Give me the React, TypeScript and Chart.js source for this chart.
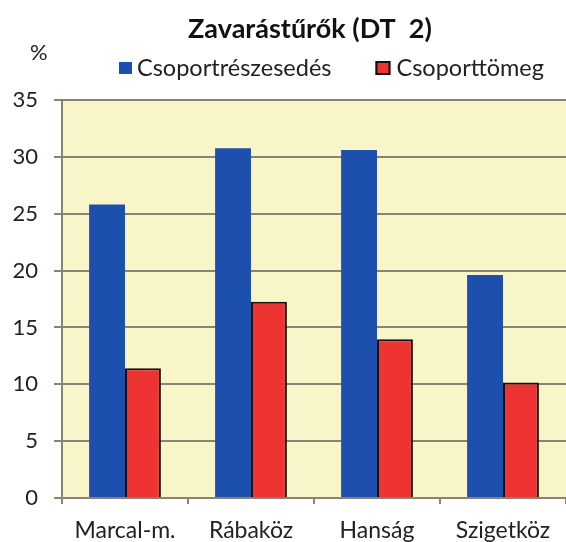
import React, { useEffect, useRef } from "react";
import { Chart, registerables } from "chart.js";

Chart.register(...registerables);

const categories = ["Marcal-m.", "Rábaköz", "Hanság", "Szigetköz"];
const csoportreszesedes = [25.8, 30.75, 30.6, 19.6];
const csoporttomeg = [11.4, 17.25, 13.95, 10.15];
const seriesNames = ["Csoportrészesedés", "Csoporttömeg"];
const seriesColors = ["#1D4FAF", "#EE3333"];
const titleText = "Zavarástűrők (DT  2)";
const unitLabel = "%";

const FONT = "Lato, 'Open Sans', sans-serif";

const decoPlugin = {
  id: "deco",
  beforeDraw(chart: any) {
    const { ctx, chartArea } = chart;
    ctx.save();
    ctx.fillStyle = "#F8F6C8";
    ctx.fillRect(chartArea.left, chartArea.top, chartArea.right - chartArea.left, chartArea.bottom - chartArea.top);
    ctx.restore();
  },
  afterDraw(chart: any) {
    const { ctx } = chart;
    ctx.save();
    ctx.textBaseline = "middle";
    // title
    ctx.fillStyle = "#111";
    ctx.font = `bold 27px ${FONT}`;
    ctx.textAlign = "center";
    ctx.fillText(titleText, 310, 29);
    // unit
    ctx.font = `22px ${FONT}`;
    ctx.textAlign = "left";
    ctx.fillStyle = "#222";
    ctx.fillText(unitLabel, 30, 53);
    // legend
    ctx.font = `23.5px ${FONT}`;
    const y = 68;
    // first item
    ctx.fillStyle = seriesColors[0];
    ctx.fillRect(119, y - 6, 13, 12);
    ctx.fillStyle = "#222";
    ctx.fillText(seriesNames[0], 137, y);
    const x2 = 137 + ctx.measureText(seriesNames[0]).width + 44;
    // second item
    ctx.fillStyle = seriesColors[1];
    ctx.fillRect(x2, y - 7, 15, 14);
    ctx.strokeStyle = "#111";
    ctx.lineWidth = 2;
    ctx.strokeRect(x2 + 1, y - 6, 13, 12);
    ctx.fillStyle = "#222";
    ctx.fillText(seriesNames[1], x2 + 21, y);
    ctx.restore();
  },
};

export default function App() {
  const ref = useRef<HTMLCanvasElement>(null);
  useEffect(() => {
    document.body.style.margin = "0";
    const chart = new Chart(ref.current!, {
      type: "bar",
      data: {
        labels: categories,
        datasets: [
          {
            label: seriesNames[0],
            data: csoportreszesedes,
            backgroundColor: seriesColors[0],
            borderWidth: 0,
          },
          {
            label: seriesNames[1],
            data: csoporttomeg,
            backgroundColor: seriesColors[1],
            borderColor: "#111",
            borderWidth: 2,
          },
        ],
      },
      options: {
        animation: false,
        responsive: false,
        devicePixelRatio: 1,
        layout: { padding: { left: 3, right: 0, top: 100, bottom: 0 } },
        datasets: { bar: { categoryPercentage: 0.57, barPercentage: 1.0 } },
        plugins: {
          title: { display: false },
          legend: { display: false },
          tooltip: { enabled: false },
        },
        scales: {
          x: {
            afterFit: (s: any) => {
              s.height = 44;
            },
            grid: {
              offset: true,
              drawOnChartArea: false,
              drawTicks: true,
              tickLength: 6,
              color: "#8A8272",
              lineWidth: 2,
            },
            border: { color: "#8A8272", width: 2 },
            ticks: { font: { family: FONT, size: 23 }, color: "#222", padding: 13 },
          },
          y: {
            min: 0,
            max: 35,
            afterFit: (s: any) => {
              s.width = 59;
            },
            ticks: { stepSize: 5, font: { family: FONT, size: 22 }, color: "#222", padding: 16 },
            grid: { color: "#8A8272", lineWidth: 2, tickLength: 8 },
            border: { color: "#8A8272", width: 2 },
          },
        },
      },
      plugins: [decoPlugin],
    });
    return () => chart.destroy();
  }, []);
  return <canvas ref={ref} width={566} height={542} style={{ display: "block" }} />;
}
